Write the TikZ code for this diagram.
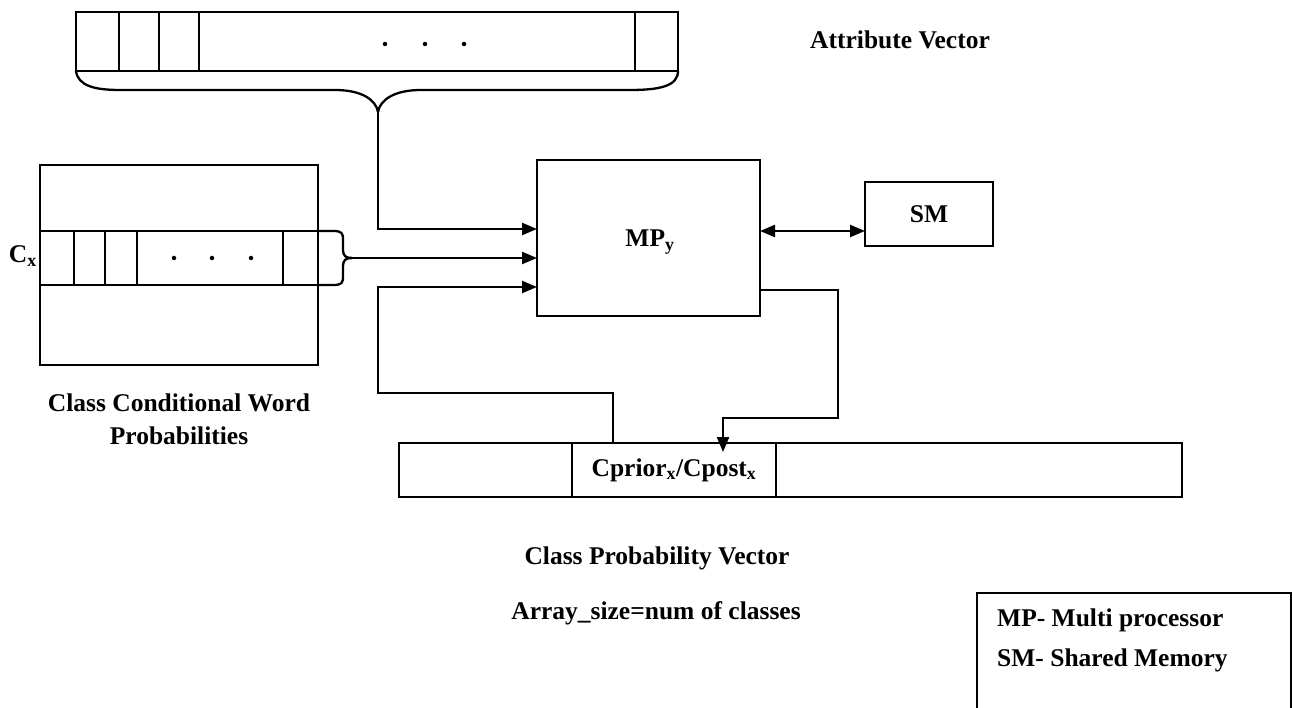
\documentclass[tikz,border=0pt]{standalone}
\usepackage{fontspec}
\setmainfont{Liberation Serif}
\usetikzlibrary{arrows.meta,calc}
\begin{document}
\begin{tikzpicture}[x=1pt,y=-1pt,
  box/.style={draw,line width=2.3pt,inner sep=0pt,outer sep=0pt,rectangle},
  lbl/.style={font=\fontsize{25.5}{33}\selectfont\bfseries,inner sep=0pt},
  conn/.style={line width=2.3pt},
  tip/.style={-{Triangle[length=15pt,width=12pt]}},
  arr/.style={conn,tip},
  darr/.style={conn,{Triangle[length=15pt,width=12pt]}-{Triangle[length=15pt,width=12pt]}},
  dot/.style={fill,circle,inner sep=0pt,minimum size=4.5pt},
]
\useasboundingbox (0,0) rectangle (1292,708);

% ---- attribute vector (top array)
\node[box,minimum width=602pt,minimum height=59pt] (attr) at (377,41.5) {};
\foreach \xx in {119,159,199,635} \draw[conn] (\xx,12) -- (\xx,71);
\node[dot] (ad1) at (385,44) {};
\node[dot] (ad2) at (425,44) {};
\node[dot] (ad3) at (464,44) {};
\coordinate (bt) at (378,112);
\draw[conn] (attr.south west) .. controls (78,86) and (95,90) .. (120,90) -- (335,90)
  .. controls (362,90) and (376,100) .. (bt);
\draw[conn] (attr.south east) .. controls (678,86) and (660,90) .. (630,90) -- (421,90)
  .. controls (394,90) and (380,100) .. (bt);
\node[lbl] (attrlbl) at (900,40) {Attribute Vector};

% ---- class conditional word probabilities (matrix)
\node[box,minimum width=278pt,minimum height=200pt] (mat) at (179,265) {};
\node[box,minimum width=278pt,minimum height=54pt] (row) at (179,258) {};
\foreach \xx in {74,105,137,283} \draw[conn] (\xx,231) -- (\xx,285);
\node[dot] (rd1) at (174,258) {};
\node[dot] (rd2) at (212,258) {};
\node[dot] (rd3) at (251,258) {};
\node[lbl,anchor=east] (cx) at (37,256) {C\textsubscript{x}};
\coordinate (rb) at (352,258);
\draw[conn] (row.north east) -- (333,231) .. controls (342,231) and (343,233) .. (343,240)
  -- (343,250) .. controls (343,256) and (346,258) .. (rb);
\draw[conn] (row.south east) -- (333,285) .. controls (342,285) and (343,283) .. (343,276)
  -- (343,266) .. controls (343,260) and (346,258) .. (rb);
\node[lbl,align=center] (matlbl) at (179,419) {Class Conditional Word\\Probabilities};

% ---- multiprocessor and shared memory
\node[box,minimum width=223pt,minimum height=156pt] (mp) at (648.5,238) {};
\node[lbl] (mplbl) at (650,242) {MP\textsubscript{y}};
\node[box,minimum width=128pt,minimum height=64pt] (sm) at (929,214) {};
\node[lbl] (smlbl) at (929,214) {SM};

% ---- class probability vector (bottom array)
\node[box,minimum width=783pt,minimum height=54pt] (cpv) at (790.5,470) {};
\node[box,minimum width=204pt,minimum height=54pt,lbl] (cell) at (674,470) {Cprior\textsubscript{x}/Cpost\textsubscript{x}};
\node[lbl] (cpvlbl) at (657,558) {Class Probability Vector};
\node[lbl] (sizelbl) at (656,613) {Array\_{}size=num of classes};

% ---- connectors
\draw[arr] (bt) |- ($(mp.west)+(0,-9)$);
\draw[arr] (rb) -- (mp.west |- rb);
\draw[arr] ($(cell.north)+(-61,0)$) |- (378,393) |- ($(mp.west)+(0,49)$);
\draw[darr] ($(mp.east)+(0,-7)$) -- ($(sm.west)+(0,17)$);
\draw[arr] ($(mp.east)+(0,52)$) -| (838,418) -| ($(cell.north)+(49,9)$);

% ---- legend
\draw[conn] (977,708) -- (977,593) -- (1291,593) -- (1291,708);
\node[lbl,anchor=west] (leg1) at (997,620) {MP- Multi processor};
\node[lbl,anchor=west] (leg2) at (997,660) {SM- Shared Memory};
\end{tikzpicture}
\end{document}
